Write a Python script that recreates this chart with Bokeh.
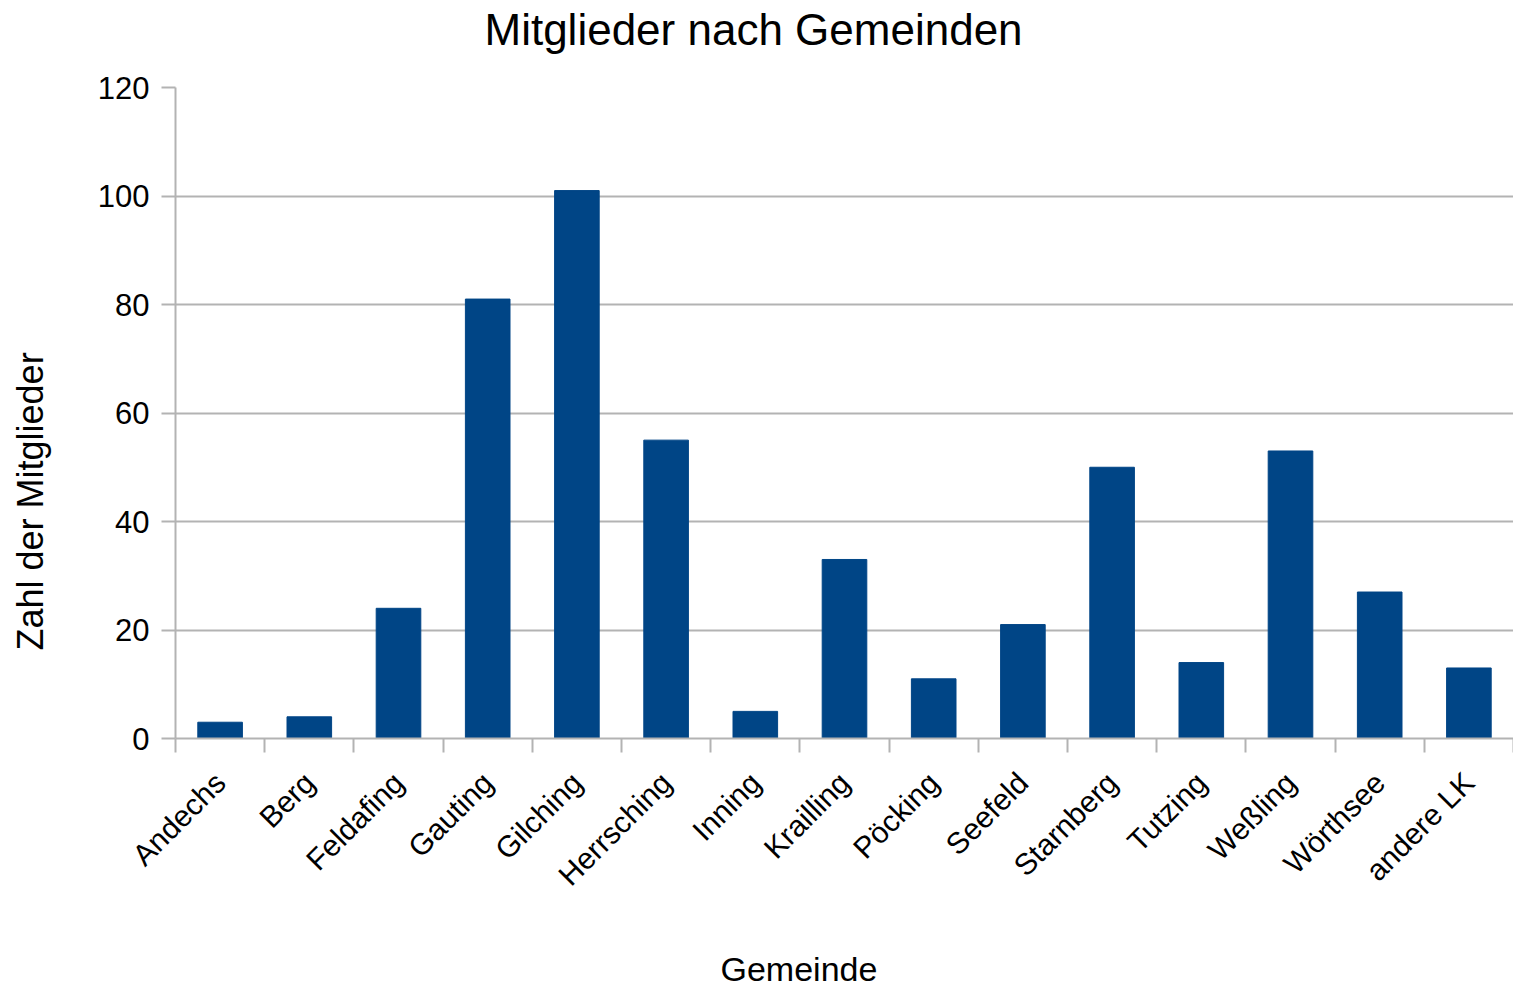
import math
from bokeh.plotting import figure
from bokeh.models import FixedTicker, Title, Range1d, ColumnDataSource, LinearAxis
from bokeh.embed import file_html
from bokeh.resources import INLINE

gemeinden = ["Andechs", "Berg", "Feldafing", "Gauting", "Gilching", "Herrsching",
             "Inning", "Krailling", "Pöcking", "Seefeld", "Starnberg", "Tutzing",
             "Weßling", "Wörthsee", "andere LK"]
mitglieder = [3, 4, 24, 81, 101, 55, 5, 33, 11, 21, 50, 14, 53, 27, 13]
y_ticks = [0, 20, 40, 60, 80, 100, 120]

FONT = "Liberation Sans"
GRID = "#b3b3b3"

centers = [i + 0.5 for i in range(len(gemeinden))]
bounds = list(range(len(gemeinden) + 1))

src = ColumnDataSource(dict(x=centers, top=mitglieder))

p = figure(width=1513, height=990, output_backend="svg", toolbar_location=None,
           x_range=Range1d(0, len(gemeinden)), y_range=Range1d(0, 120),
           min_border_left=175, min_border_top=87, min_border_bottom=252,
           min_border_right=0)
p.outline_line_color = None
p.background_fill_color = "white"

p.vbar(x="x", top="top", width=0.5, source=src, fill_color="#004586", line_color="#004586")

# x axis
xa = p.xaxis[0]
xa.ticker = FixedTicker(ticks=centers, minor_ticks=bounds)
xa.major_label_overrides = {c: g for c, g in zip(centers, gemeinden)}
xa.major_label_orientation = math.pi / 4
xa.major_tick_out = 0
xa.major_tick_in = 0
xa.minor_tick_out = 14
xa.minor_tick_in = 0
xa.minor_tick_line_color = GRID
xa.minor_tick_line_width = 2
xa.axis_line_color = GRID
xa.axis_line_width = 2
xa.major_label_text_font = FONT
xa.major_label_text_font_size = "30px"
xa.major_label_text_color = "black"
xa.major_label_standoff = 25

# y axis
ya = p.yaxis[0]
ya.ticker = FixedTicker(ticks=y_ticks)
ya.minor_tick_out = 0
ya.minor_tick_in = 0
ya.major_tick_out = 14
ya.major_tick_in = 0
ya.major_tick_line_color = GRID
ya.major_tick_line_width = 2
ya.axis_line_color = GRID
ya.axis_line_width = 2
ya.major_label_text_font = FONT
ya.major_label_text_font_size = "31px"
ya.major_label_text_color = "black"
ya.major_label_standoff = 12

p.xgrid.grid_line_color = None
p.ygrid.grid_line_color = GRID
p.ygrid.grid_line_width = 2
p.ygrid.ticker = FixedTicker(ticks=y_ticks)


def spacer(size):
    # invisible axis used only to reserve space between the frame and an outer title
    return LinearAxis(ticker=FixedTicker(ticks=[0]), major_tick_out=size, major_tick_in=0,
                      axis_line_color=None, major_tick_line_color="white",
                      minor_tick_line_color=None, major_label_text_color=None,
                      major_label_text_font_size="0px", major_label_standoff=0)


p.add_layout(spacer(32), "above")
p.add_layout(spacer(42), "left")
p.add_layout(spacer(40), "below")

p.add_layout(Title(text="Mitglieder nach Gemeinden", text_font=FONT, text_font_size="44px",
                   text_font_style="normal", text_color="black", align="left", offset=309,
                   standoff=4),
             "above")
p.add_layout(Title(text="Gemeinde", text_font=FONT, text_font_size="34px",
                   text_font_style="normal", text_color="black", align="left", offset=545,
                   standoff=2),
             "below")
p.add_layout(Title(text="Zahl der Mitglieder", text_font=FONT, text_font_size="36px",
                   text_font_style="normal", text_color="black", align="left", offset=88,
                   standoff=4),
             "left")

open("out.html", "w").write(file_html(p, INLINE))
